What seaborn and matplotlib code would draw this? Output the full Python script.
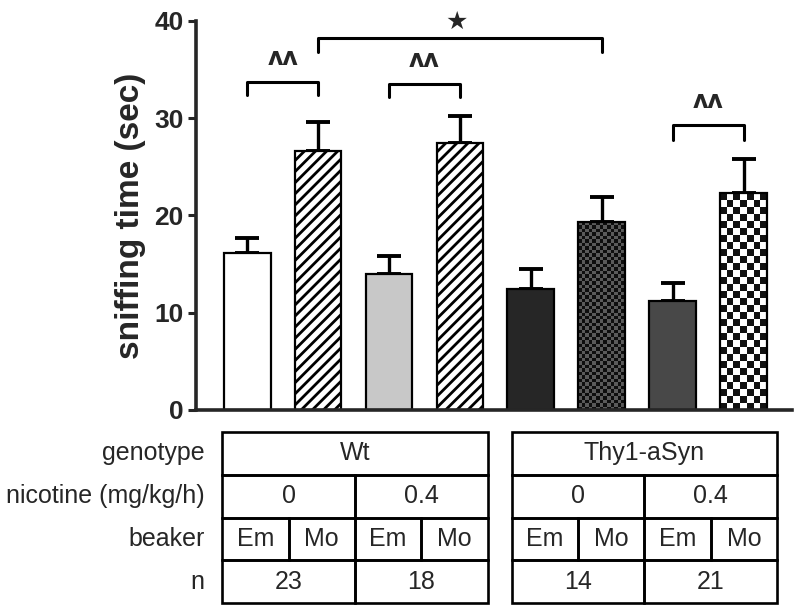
"""
Sniffing time per group, with the group table underneath
"""

import numpy as np
import pandas as pd
import matplotlib
matplotlib.use("Agg")
import matplotlib.pyplot as plt
from matplotlib.patches import Rectangle
import seaborn as sns

# ---- data ----
groups = ["Wt-0-Em", "Wt-0-Mo", "Wt-0.4-Em", "Wt-0.4-Mo",
          "Syn-0-Em", "Syn-0-Mo", "Syn-0.4-Em", "Syn-0.4-Mo"]
sniff_mean = [16.1, 26.6, 14.0, 27.4, 12.4, 19.3, 11.2, 22.3]
sniff_sem = [1.6, 3.0, 1.8, 2.8, 2.1, 2.6, 1.9, 3.5]

genotypes = ["Wt", "Thy1-aSyn"]
nicotine = ["0", "0.4"]
beaker = ["Em", "Mo"]
n_values = [23, 18, 14, 21]
row_labels = ["genotype", "nicotine (mg/kg/h)", "beaker", "n"]

# (bar a, bar b, mark)
comparisons = [(0, 1, "\u028c\u028c"), (2, 3, "\u028c\u028c"),
               (6, 7, "\u028c\u028c"), (1, 5, "\u2605")]

face_colors = ["white", "white", "#c8c8c8", "white",
               "#262626", "white", "#484848", "white"]
hatches = [None, "///", None, "///", None, None, None, None]

sns.set_style("ticks")
plt.rcParams["font.family"] = ["Liberation Sans", "DejaVu Sans"]
plt.rcParams["hatch.linewidth"] = 2.0

df = pd.DataFrame({"group": groups, "mean": sniff_mean, "sem": sniff_sem})

fig = plt.figure(figsize=(8, 6.11), dpi=100)
ax = fig.add_axes([0.245, 0.329, 0.745, 0.637])

sns.barplot(data=df, x="group", y="mean", order=groups, errorbar=None,
            width=0.66, color="white", edgecolor="black", linewidth=1.6, ax=ax)

bars = ax.patches
for bar, fc, h in zip(bars, face_colors, hatches):
    bar.set_facecolor(fc)
    bar.set_zorder(2)
    if h:
        bar.set_hatch(h)

centers = [b.get_x() + b.get_width() / 2 for b in bars]
ax.errorbar(centers, sniff_mean, yerr=[np.zeros(len(sniff_sem)), sniff_sem],
            fmt="none", ecolor="black", elinewidth=2.4, capsize=8.5,
            capthick=2.8, zorder=1)

ax.set_xlim(-0.72, 7.68)
ax.set_ylim(0, 40)
ax.set_yticks([0, 10, 20, 30, 40])


def checker_fill(bar, cell_px, c1, c2):
    """checkerboard clipped into a bar"""
    x0, y0 = bar.get_x(), bar.get_y()
    w, h = bar.get_width(), bar.get_height()
    p0 = ax.transData.transform((x0, y0))
    p1 = ax.transData.transform((x0 + w, y0 + h))
    nx = max(1, int(round(abs(p1[0] - p0[0]) / cell_px)))
    ny = max(1, int(round(abs(p1[1] - p0[1]) / cell_px)))
    ii, jj = np.indices((ny, nx))
    img = ((ii + jj) % 2).astype(float)
    cmap = matplotlib.colors.ListedColormap([c1, c2])
    im = ax.imshow(img, extent=(x0, x0 + w, y0, y0 + h), origin="lower",
                   cmap=cmap, interpolation="nearest", aspect="auto", zorder=1.5)
    im.set_clip_path(bar)
    bar.set_facecolor("none")


checker_fill(bars[5], 3.5, "#0e0e0e", "#5a5a5a")
checker_fill(bars[7], 7.0, "#111111", "white")
ax.set_xlim(-0.72, 7.68)
ax.set_ylim(0, 40)

# significance brackets
bracket_levels = [(32.4, 33.7, 34.9), (32.2, 33.5, 34.7),
                  (27.7, 29.3, 30.5), (36.8, 38.2, 38.7)]
for (a, b, mark), (lo, hi, ty) in zip(comparisons, bracket_levels):
    ax.plot([centers[a], centers[a], centers[b], centers[b]], [lo, hi, hi, lo],
            color="black", lw=2.2, clip_on=False)
    fs = 17 if mark != "\u2605" else 18
    ax.text((centers[a] + centers[b]) / 2 - (0.05 if mark == "\u2605" else 0), ty,
            mark, ha="center", va="bottom", fontsize=fs, fontweight="bold",
            family=["DejaVu Sans"], clip_on=False)

ax.set_xlabel("")
ax.set_xticks([])
ax.set_ylabel("sniffing time (sec)", fontsize=24, fontweight="bold", labelpad=6)
ax.tick_params(axis="y", width=2.2, length=6, labelsize=19, direction="out", pad=3)
for lab in ax.get_yticklabels():
    lab.set_fontweight("bold")
for side in ["left", "bottom"]:
    ax.spines[side].set_linewidth(2.6)
sns.despine(ax=ax)

# ---- group table ----
tax = fig.add_axes([0.245, 0.013, 0.745, 0.28])
tax.set_xlim(ax.get_xlim())
tax.set_ylim(4, 0)
tax.axis("off")

block_w = 3.74
col_w = block_w / 4
block_left = [-0.35, 3.73]


def cell(x, y, w, text):
    tax.add_patch(Rectangle((x, y), w, 1, facecolor="none", edgecolor="black",
                            lw=1.9, clip_on=False))
    tax.text(x + w / 2, y + 0.5, text, ha="center", va="center", fontsize=18)


for gi, geno in enumerate(genotypes):
    x0 = block_left[gi]
    cell(x0, 0, block_w, geno)
    for ni, nic in enumerate(nicotine):
        xn = x0 + ni * 2 * col_w
        cell(xn, 1, 2 * col_w, nic)
        for bi, bk in enumerate(beaker):
            cell(xn + bi * col_w, 2, col_w, bk)
        cell(xn, 3, 2 * col_w, str(n_values[gi * 2 + ni]))

for ri, lab in enumerate(row_labels):
    tax.text(-0.6, ri + 0.5, lab, ha="right", va="center", fontsize=18)

fig.savefig("out.png", dpi=100)
